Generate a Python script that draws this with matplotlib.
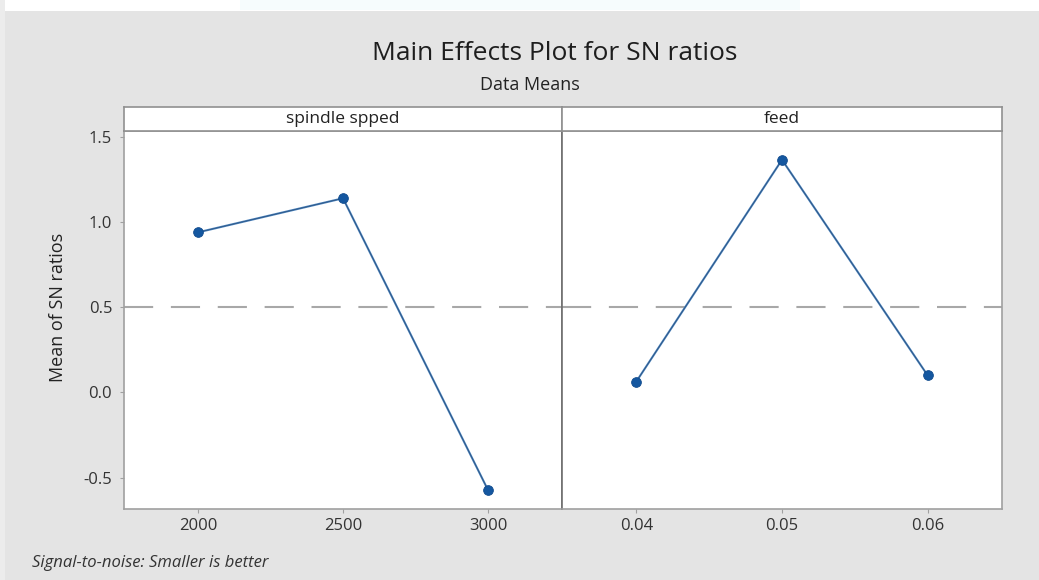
import numpy as np
import matplotlib.pyplot as plt
from matplotlib.patches import Rectangle

# main effects (mean of SN ratios) per factor level
speed_levels = ['2000', '2500', '3000']
speed_sn = [0.94, 1.14, -0.573]
feed_levels = ['0.04', '0.05', '0.06']
feed_sn = [0.064, 1.366, 0.10]

panels = [('spindle spped', speed_levels, speed_sn),
          ('feed', feed_levels, feed_sn)]

grand_mean = np.mean(speed_sn)

plt.rcParams['font.family'] = ['Open Sans', 'DejaVu Sans']

W, H = 1039, 580
fig = plt.figure(figsize=(W / 100, H / 100), dpi=100)
bg = '#e4e4e4'
fig.patch.set_facecolor(bg)

# pale strip along the top and left edges
fig.patches.append(Rectangle((0, 1 - 11 / H), 1, 11 / H, transform=fig.transFigure,
                             facecolor='white', edgecolor='none', zorder=0))
fig.patches.append(Rectangle((0, 0), 5 / W, 1, transform=fig.transFigure,
                             facecolor='#ececec', edgecolor='none', zorder=0))
fig.patches.append(Rectangle((240 / W, 1 - 10 / H), 560 / W, 10 / H, transform=fig.transFigure,
                             facecolor='#f6fcfd', edgecolor='none', zorder=0))

left, right = 124, 1002
mid = 562
top, bottom = 131, 509
hdr_top = 107

edges = [(left, mid), (mid, right)]
for i, (name, levels, vals) in enumerate(panels):
    x0, x1 = edges[i]
    ax = fig.add_axes([x0 / W, 1 - bottom / H, (x1 - x0) / W, (bottom - top) / H])
    ax.set_facecolor('white')
    xs = np.arange(len(levels))
    ax.axhline(grand_mean, color='#a8a8a8', lw=1.5, dashes=(14, 8.5), zorder=1)
    ax.plot(xs, vals, color='#4a82bd', lw=1.5, zorder=2)
    ax.plot(xs, vals, color='#2a4f7a', lw=0.5, zorder=3)
    ax.plot(xs, vals, 'o', color='#1457a0', ms=7, mec='#0f4a8c', mew=0.6, zorder=4)

    ax.set_xlim(-0.51, 2.51)
    ax.set_ylim(-0.684, 1.535)
    ax.set_xticks(xs)
    ax.set_xticklabels(levels, fontsize=12, color='#333333')
    ax.set_yticks([-0.5, 0.0, 0.5, 1.0, 1.5])
    ax.tick_params(axis='both', direction='out', length=3, color='#a0a0a0')
    ax.tick_params(axis='x', pad=3.5)
    ax.tick_params(axis='y', pad=5.5)
    for s in ax.spines.values():
        s.set_color('#a0a0a0')
        s.set_linewidth(1.2)
    if i == 0:
        ax.set_yticklabels(['-0.5', '0.0', '0.5', '1.0', '1.5'], fontsize=12, color='#333333')
        ax.spines['right'].set_color('#707070')
    else:
        ax.tick_params(axis='y', left=False, labelleft=False)
        ax.spines['left'].set_color('#707070')

    # header strip with the factor name
    hax = fig.add_axes([x0 / W, 1 - top / H, (x1 - x0) / W, (top - hdr_top) / H])
    hax.set_facecolor('white')
    hax.set_xticks([])
    hax.set_yticks([])
    for s in hax.spines.values():
        s.set_color('#909090')
        s.set_linewidth(1.2)
    hax.text(0.5, 0.5, name, ha='center', va='center', fontsize=12.5, color='#222222',
             transform=hax.transAxes)

fig.text(555 / W, 1 - 60 / H, 'Main Effects Plot for SN ratios', ha='center', va='baseline',
         fontsize=19, fontweight='medium', color='#1e1e1e')
fig.text(530 / W, 1 - 90 / H, 'Data Means', ha='center', va='baseline',
         fontsize=13, color='#222222')
fig.text(58 / W, 1 - 307 / H, 'Mean of SN ratios', ha='center', va='center', rotation=90,
         fontsize=13, color='#222222')
fig.text(32 / W, 1 - 567 / H, 'Signal-to-noise: Smaller is better', ha='left', va='baseline',
         fontsize=12, style='italic', color='#333333')

fig.savefig('out.png', dpi=100, facecolor=fig.get_facecolor())
